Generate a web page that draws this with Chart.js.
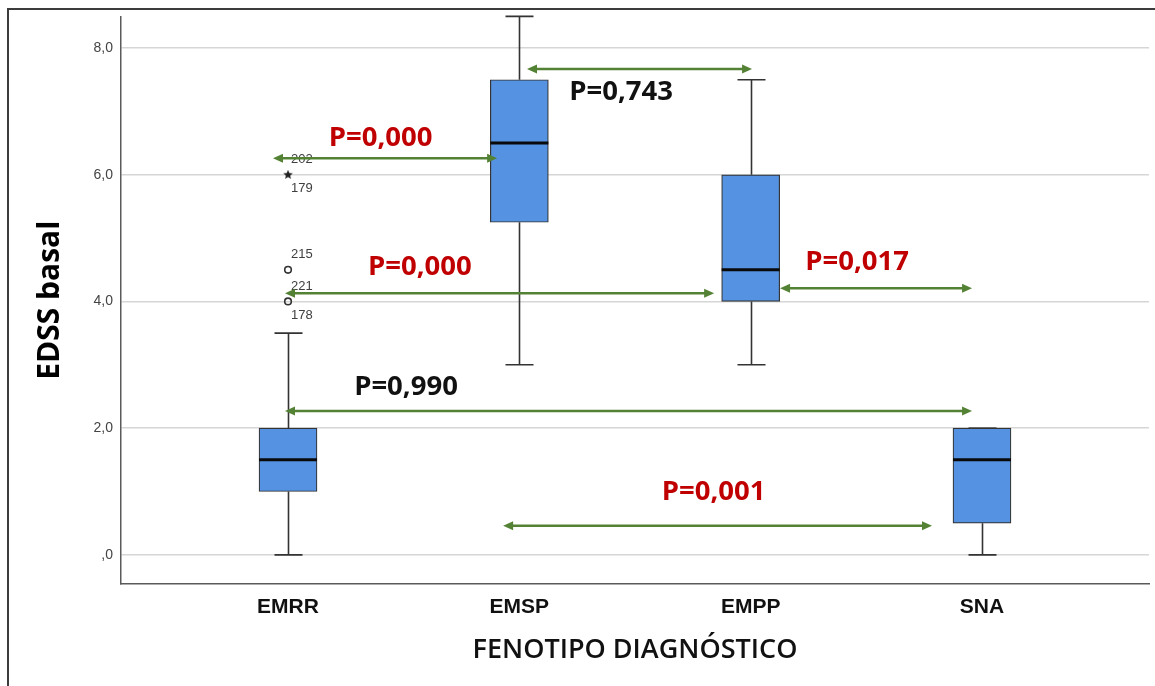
<!DOCTYPE html>
<html>
<head>
<meta charset="utf-8">
<title>EDSS basal por fenotipo diagnóstico</title>
<script src="https://cdn.jsdelivr.net/npm/chart.js@4.4.1/dist/chart.umd.min.js"></script>
<style>
  html, body { margin: 0; padding: 0; background: #ffffff; }
  #wrap { width: 1155px; height: 686px; position: relative; }
  canvas { display: block; }
</style>
</head>
<body>
<div id="wrap"><canvas id="chart" width="1155" height="686"></canvas></div>
<script>
// ---- data ----
const categories = ['EMRR', 'EMSP', 'EMPP', 'SNA'];
const whiskerLow  = [0.0, 3.0, 3.0, 0.0];
const quartile1   = [1.0, 5.25, 4.0, 0.5];
const medians     = [1.5, 6.5, 4.5, 1.5];
const quartile3   = [2.0, 7.5, 6.0, 2.0];
const whiskerHigh = [3.5, 8.5, 7.5, 2.0];

const yTickValues = [0, 2, 4, 6, 8];
const yTickLabels = [',0', '2,0', '4,0', '6,0', '8,0'];

// atypical cases (all in EMRR)
const outlierCategory = [0, 0, 0];
const outlierValues   = [6.0, 4.5, 4.0];
const outlierExtreme  = [true, false, false];
const outlierCases    = [['202', '179'], ['215'], ['221', '178']];

// pairwise comparisons: p-values and whether they are significant
const pLabels      = ['P=0,743', 'P=0,000', 'P=0,000', 'P=0,017', 'P=0,990', 'P=0,001'];
const pSignificant = [false, true, true, true, false, true];

// ---- annotation placement (category units / EDSS units) ----
const compFrom   = [1.033, -0.065, -0.013, 2.127, -0.013, 0.930];
const compTo     = [2.006, 0.904, 1.842, 2.957, 2.957, 2.784];
const compLevel  = [7.67, 6.26, 4.13, 4.21, 2.27, 0.46];
const pLabelX    = [1.44, 0.40, 0.57, 2.46, 0.51, 1.84];
const pLabelY    = [7.30, 6.58, 4.54, 4.62, 2.65, 0.99];

// ---- styles ----
const BOX_FILL = '#5592e2';
const LINE_DARK = '#333333';
const ARROW_GREEN = '#548235';
const P_RED = '#c00000';

// small filled star used for extreme values
function makeStar(size) {
  const c = document.createElement('canvas');
  c.width = size; c.height = size;
  const g = c.getContext('2d');
  const cx = size / 2, cy = size / 2, R = size / 2, r = R * 0.45;
  g.beginPath();
  for (let k = 0; k < 10; k++) {
    const rad = k % 2 === 0 ? R : r;
    const a = -Math.PI / 2 + k * Math.PI / 5;
    const px = cx + rad * Math.cos(a), py = cy + rad * Math.sin(a);
    if (k === 0) g.moveTo(px, py); else g.lineTo(px, py);
  }
  g.closePath();
  g.fillStyle = '#222';
  g.fill();
  return c;
}
const starImg = makeStar(10);

const boxData = categories.map((c, i) => ({ x: i, y: [quartile1[i], quartile3[i]] }));
const mildData = [], extremeData = [];
outlierValues.forEach((v, i) => {
  (outlierExtreme[i] ? extremeData : mildData).push({ x: outlierCategory[i], y: v });
});

function arrowHead(ctx, x, y, dir) {
  const len = 10, half = 4.5;
  ctx.beginPath();
  ctx.moveTo(x, y);
  ctx.lineTo(x - dir * len, y - half);
  ctx.lineTo(x - dir * len, y + half);
  ctx.closePath();
  ctx.fill();
}

const boxPlotExtras = {
  id: 'boxPlotExtras',
  beforeDraw(chart) {
    const ctx = chart.ctx;
    ctx.save();
    ctx.fillStyle = '#ffffff';
    ctx.fillRect(0, 0, chart.width, chart.height);
    ctx.restore();
  },
  beforeDatasetsDraw(chart) {
    // whiskers and caps
    const { ctx, scales: { x, y } } = chart;
    ctx.save();
    ctx.strokeStyle = LINE_DARK;
    ctx.lineWidth = 1.6;
    categories.forEach((c, i) => {
      const cx = Math.round(x.getPixelForValue(i)) + 0.5;
      const capHalf = 14;
      const segs = [[quartile3[i], whiskerHigh[i]], [quartile1[i], whiskerLow[i]]];
      segs.forEach(([from, to]) => {
        const y0 = y.getPixelForValue(from), y1 = y.getPixelForValue(to);
        ctx.beginPath();
        ctx.moveTo(cx, y0); ctx.lineTo(cx, y1);
        ctx.moveTo(cx - capHalf, y1); ctx.lineTo(cx + capHalf, y1);
        ctx.stroke();
      });
    });
    ctx.restore();
  },
  afterDatasetsDraw(chart) {
    const { ctx, scales: { x, y } } = chart;
    const meta = chart.getDatasetMeta(0);
    ctx.save();
    // medians
    ctx.strokeStyle = '#0a0a0a';
    ctx.lineWidth = 3;
    categories.forEach((c, i) => {
      const bar = meta.data[i];
      const half = bar.width / 2;
      const cx = x.getPixelForValue(i);
      const my = y.getPixelForValue(medians[i]);
      ctx.beginPath();
      ctx.moveTo(cx - half, my); ctx.lineTo(cx + half, my);
      ctx.stroke();
    });
    // case numbers next to atypical values
    ctx.fillStyle = '#404040';
    ctx.font = '13px "Liberation Sans", Arial, sans-serif';
    ctx.textAlign = 'left';
    ctx.textBaseline = 'middle';
    outlierValues.forEach((v, i) => {
      const px = x.getPixelForValue(outlierCategory[i]) + 3;
      const py = y.getPixelForValue(v);
      const ids = outlierCases[i];
      ctx.fillText(ids[0], px, py - 15);
      if (ids[1]) ctx.fillText(ids[1], px, py + 14);
    });
    // comparison arrows
    ctx.strokeStyle = ARROW_GREEN;
    ctx.fillStyle = ARROW_GREEN;
    ctx.lineWidth = 2.5;
    compLevel.forEach((lv, i) => {
      const x0 = x.getPixelForValue(compFrom[i]);
      const x1 = x.getPixelForValue(compTo[i]);
      const py = y.getPixelForValue(lv);
      ctx.beginPath();
      ctx.moveTo(x0 + 6, py); ctx.lineTo(x1 - 6, py);
      ctx.stroke();
      arrowHead(ctx, x0, py, -1);
      arrowHead(ctx, x1, py, 1);
    });
    // p-values
    ctx.font = 'bold 27.5px "Open Sans", "Liberation Sans", sans-serif';
    ctx.textAlign = 'center';
    ctx.textBaseline = 'middle';
    pLabels.forEach((t, i) => {
      ctx.fillStyle = pSignificant[i] ? P_RED : '#111111';
      ctx.fillText(t, x.getPixelForValue(pLabelX[i]), y.getPixelForValue(pLabelY[i]));
    });
    ctx.restore();
  },
  afterDraw(chart) {
    // outer frame
    const ctx = chart.ctx;
    ctx.save();
    ctx.strokeStyle = '#3c3c3c';
    ctx.lineWidth = 2;
    ctx.beginPath();
    ctx.moveTo(8, chart.height + 2);
    ctx.lineTo(8, 9);
    ctx.lineTo(chart.width + 2, 9);
    ctx.stroke();
    ctx.restore();
  }
};

new Chart(document.getElementById('chart'), {
  type: 'bar',
  data: {
    datasets: [
      {
        type: 'bar',
        label: 'EDSS basal',
        data: boxData,
        backgroundColor: BOX_FILL,
        borderColor: LINE_DARK,
        borderWidth: 1.2,
        borderSkipped: false,
        barThickness: 58,
        order: 2
      },
      {
        type: 'scatter',
        label: 'atípicos',
        data: mildData,
        pointStyle: 'circle',
        pointRadius: 3.3,
        backgroundColor: 'rgba(255,255,255,0)',
        borderColor: LINE_DARK,
        borderWidth: 1.6,
        order: 1
      },
      {
        type: 'scatter',
        label: 'extremos',
        data: extremeData,
        pointStyle: starImg,
        order: 1
      }
    ]
  },
  options: {
    responsive: false,
    animation: false,
    events: [],
    layout: { padding: { left: 0, right: 6, top: 16, bottom: 0 } },
    plugins: {
      legend: { display: false },
      tooltip: { enabled: false },
      title: { display: false }
    },
    scales: {
      x: {
        type: 'linear',
        bounds: 'data',
        offset: false,
        min: -0.722,
        max: 3.722,
        afterBuildTicks(scale) { scale.ticks = categories.map((c, i) => ({ value: i })); },
        afterFit(scale) { scale.height = 102; },
        grid: { display: false, drawTicks: false, offset: false },
        border: { display: true, color: '#5a5a5a', width: 1.5 },
        ticks: {
          padding: 11,
          autoSkip: false,
          maxRotation: 0,
          color: '#111111',
          font: { family: '"Liberation Sans", Arial, sans-serif', size: 21, weight: 'bold' },
          callback: (v) => categories[Math.round(v)]
        },
        title: {
          display: true,
          text: 'FENOTIPO DIAGNÓSTICO',
          color: '#111111',
          font: { family: '"Open Sans", sans-serif', size: 27, weight: '600' },
          padding: { top: 0, bottom: 19 }
        }
      },
      y: {
        type: 'linear',
        bounds: 'data',
        min: -0.46,
        max: 8.5,
        afterBuildTicks(scale) { scale.ticks = yTickValues.map(v => ({ value: v })); },
        afterFit(scale) { scale.width = 121; },
        grid: { color: '#d6d6d6', lineWidth: 1.6, drawTicks: false },
        border: { display: true, color: '#5a5a5a', width: 1.5 },
        ticks: {
          padding: 8,
          color: '#444444',
          font: { family: '"Liberation Sans", Arial, sans-serif', size: 14 },
          callback: (v) => yTickLabels[yTickValues.indexOf(v)]
        },
        title: {
          display: true,
          text: 'EDSS basal',
          color: '#000000',
          font: { family: '"Open Sans", sans-serif', size: 30, weight: 'bold' },
          padding: { top: 32, bottom: 0 }
        }
      }
    }
  },
  plugins: [boxPlotExtras]
});
</script>
</body>
</html>
